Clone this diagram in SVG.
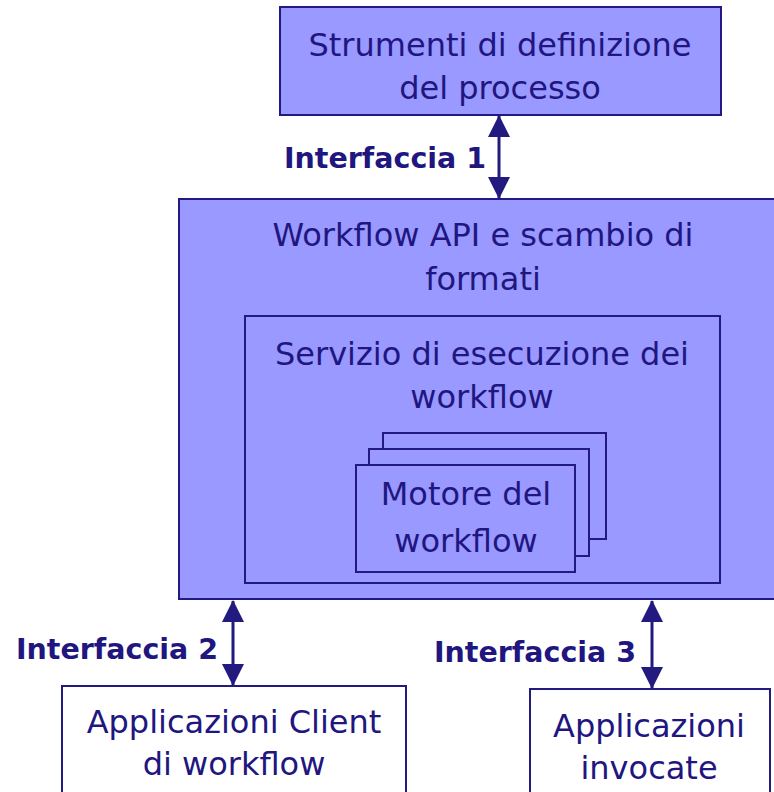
<svg xmlns="http://www.w3.org/2000/svg" width="774" height="792" viewBox="0 0 774 792">
  <style>
    .box { fill: #9999FF; stroke: #231A80; stroke-width: 2; }
    .plain { fill: #FFFFFF; stroke: #231A80; stroke-width: 2; }
    .lbl { font-family: "DejaVu Sans", sans-serif; font-size: 32px; fill: #21167F; text-anchor: middle; }
    .ifc { font-family: "DejaVu Sans", sans-serif; font-weight: bold; font-size: 28.5px; fill: #21167F; text-anchor: middle; }
    .link { stroke: #231A80; stroke-width: 3; fill: none; marker-start: url(#head); marker-end: url(#head); }
  </style>
  <defs>
    <marker id="head" viewBox="0 0 22 22" refX="21" refY="11" markerWidth="22" markerHeight="22" markerUnits="userSpaceOnUse" orient="auto-start-reverse">
      <path d="M0,0 L22,11 L0,22 Z" fill="#231A80"/>
    </marker>
  </defs>

  <rect width="774" height="792" fill="#FFFFFF"/>

  <g id="strumenti">
    <rect class="box" x="280" y="7" width="441" height="108"/>
    <text class="lbl" x="500" y="56">Strumenti di definizione</text>
    <text class="lbl" x="500" y="99">del processo</text>
  </g>

  <g id="workflow-api">
    <rect class="box" x="179" y="199" width="602" height="400"/>
    <text class="lbl" x="483" y="246">Workflow API e scambio di</text>
    <text class="lbl" x="483" y="290">formati</text>
  </g>

  <g id="servizio">
    <rect class="box" x="245" y="316" width="475" height="267"/>
    <text class="lbl" x="482" y="365">Servizio di esecuzione dei</text>
    <text class="lbl" x="482" y="408">workflow</text>
  </g>

  <g id="motore">
    <rect class="box" x="383" y="433" width="223" height="106"/>
    <rect class="box" x="369" y="449" width="220" height="107"/>
    <rect class="box" x="356" y="465" width="219" height="107"/>
    <text class="lbl" x="466" y="505">Motore del</text>
    <text class="lbl" x="466" y="552">workflow</text>
  </g>

  <g id="client">
    <rect class="plain" x="62" y="686" width="344" height="120"/>
    <text class="lbl" x="234" y="733">Applicazioni Client</text>
    <text class="lbl" x="234" y="775">di workflow</text>
  </g>

  <g id="invocate">
    <rect class="plain" x="530" y="689" width="240" height="120"/>
    <text class="lbl" x="649" y="737">Applicazioni</text>
    <text class="lbl" x="649" y="779">invocate</text>
  </g>

  <g id="connectors">
    <line class="link" x1="499" y1="116" x2="499" y2="198"/>
    <line class="link" x1="233" y1="601" x2="233" y2="685"/>
    <line class="link" x1="652" y1="601" x2="652" y2="688"/>
    <text class="ifc" x="385" y="168">Interfaccia 1</text>
    <text class="ifc" x="117" y="659">Interfaccia 2</text>
    <text class="ifc" x="535" y="662">Interfaccia 3</text>
  </g>
</svg>
